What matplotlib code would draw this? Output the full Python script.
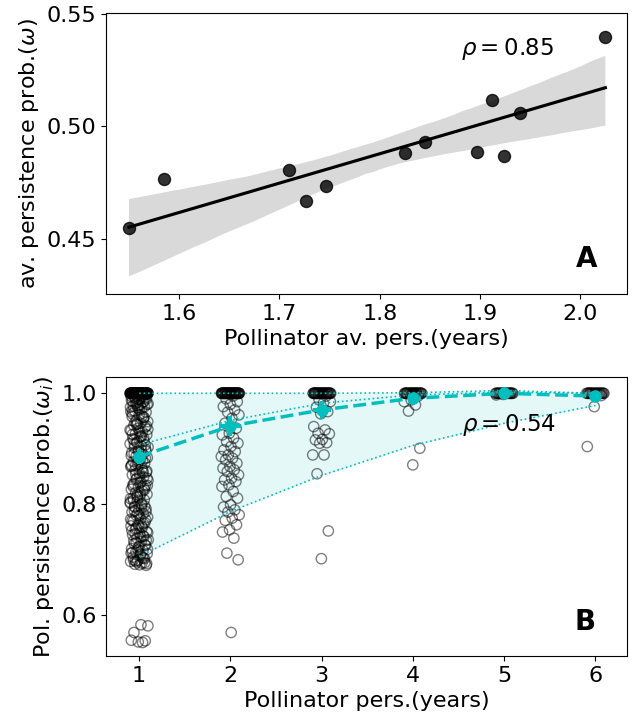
import numpy as np
import matplotlib
matplotlib.use("Agg")
import matplotlib.pyplot as plt
import seaborn as sns

# ---- panel A: average persistence per network ----
pol_av_pers = [1.550, 1.585, 1.710, 1.727, 1.746, 1.825, 1.845, 1.897, 1.912, 1.924, 1.940, 2.025]
av_persist = [0.4545, 0.4764, 0.4803, 0.4667, 0.4734, 0.4879, 0.4931, 0.4884, 0.5115, 0.4866, 0.5057, 0.5397]
rho_a = 0.85

# ---- panel B: per-pollinator persistence ----
years = [1, 2, 3, 4, 5, 6]
# number of species sitting at exactly 1.0 for each persistence class
n_at_one = [80, 50, 35, 28, 22, 22]
# the other (below 1) values for each persistence class
pers_1 = [0.998, 0.996, 0.995, 0.993, 0.991, 0.990, 0.988, 0.986, 0.985, 0.983, 0.981,
          0.997, 0.994, 0.992, 0.989, 0.987, 0.984, 0.982, 0.980, 0.979, 0.977, 0.976,
          0.978, 0.975, 0.973, 0.968, 0.966, 0.961, 0.958, 0.956, 0.951, 0.949, 0.946,
          0.942, 0.939, 0.937, 0.933, 0.930, 0.927, 0.925, 0.921, 0.918, 0.914, 0.912,
          0.909, 0.905, 0.902, 0.899, 0.897, 0.893, 0.890, 0.886, 0.884, 0.881, 0.877,
          0.874, 0.872, 0.868, 0.865, 0.862, 0.858, 0.856, 0.853, 0.849, 0.846, 0.843,
          0.840, 0.837, 0.833, 0.831, 0.827, 0.824, 0.821, 0.818, 0.815, 0.811, 0.808,
          0.806, 0.802, 0.799, 0.796, 0.792, 0.790, 0.786, 0.783, 0.780, 0.777, 0.774,
          0.770, 0.767, 0.764, 0.761, 0.758, 0.755, 0.751, 0.748, 0.745, 0.742, 0.739,
          0.736, 0.733, 0.729, 0.726, 0.723, 0.720, 0.717, 0.714, 0.711, 0.708, 0.705,
          0.702, 0.699, 0.697, 0.694, 0.692, 0.690,
          0.971, 0.963, 0.953, 0.944, 0.935, 0.923, 0.916, 0.907, 0.895, 0.888, 0.879,
          0.870, 0.860, 0.851, 0.835, 0.829, 0.813, 0.804, 0.794, 0.788, 0.772, 0.762,
          0.753, 0.743, 0.731, 0.719, 0.710, 0.700, 0.695,
          0.974, 0.967, 0.959, 0.948, 0.941, 0.932, 0.926, 0.919, 0.911, 0.903, 0.898,
          0.891, 0.883, 0.876, 0.869, 0.861, 0.855, 0.847, 0.839, 0.832, 0.826, 0.817,
          0.810, 0.801, 0.795, 0.787, 0.779, 0.771, 0.765, 0.757, 0.749, 0.741, 0.734,
          0.727, 0.718, 0.712, 0.704, 0.698, 0.693, 0.691,
          0.969, 0.957, 0.945, 0.934, 0.922, 0.908, 0.896, 0.882, 0.871, 0.857, 0.845,
          0.834, 0.819, 0.807, 0.797, 0.784, 0.773, 0.760, 0.747, 0.735, 0.724, 0.713,
          0.703, 0.696,
          0.581, 0.583, 0.569, 0.554, 0.552, 0.555, 0.551]
pers_2 = [0.995, 0.990, 0.985, 0.980, 0.976, 0.970, 0.966, 0.961, 0.955, 0.946, 0.937,
          0.928, 0.925, 0.919, 0.913, 0.910, 0.904, 0.898, 0.895, 0.889, 0.886, 0.883,
          0.880, 0.874, 0.868, 0.865, 0.862, 0.859, 0.853, 0.847, 0.844, 0.841, 0.835,
          0.832, 0.823, 0.814, 0.811, 0.799, 0.795, 0.790, 0.786, 0.781, 0.775, 0.771,
          0.763, 0.754, 0.750, 0.739, 0.712, 0.700, 0.569]
pers_3 = [0.995, 0.988, 0.985, 0.982, 0.975, 0.967, 0.963, 0.940, 0.934, 0.928, 0.927,
          0.917, 0.916, 0.911, 0.910, 0.889, 0.889, 0.855, 0.752, 0.702]
pers_4 = [0.995, 0.988, 0.985, 0.979, 0.968, 0.901, 0.871]
pers_5 = [0.998, 0.997]
pers_6 = [0.996, 0.976, 0.904]
pers_lists = [pers_1, pers_2, pers_3, pers_4, pers_5, pers_6]

mean_pers = [0.886, 0.941, 0.970, 0.991, 1.000, 0.995]
mean_yerr = [0.013, 0.018, 0.016, 0.006, 0.002, 0.003]
mean_xerr = [0.06, 0.12, 0.10, 0.04, 0.02, 0.02]
upper_band = [1.000, 1.000, 1.000, 1.001, 1.005, 1.000]
mid_band = [0.907, 0.951, 0.982, 0.997, 1.002, 1.000]
lower_band = [0.706, 0.787, 0.852, 0.906, 0.946, 0.978]
rho_b = 0.54

plt.rcParams['font.size'] = 16

fig = plt.figure(figsize=(6.32, 7.18), dpi=100)
ax1 = fig.add_axes([0.168, 0.5905, 0.824, 0.3907])
ax2 = fig.add_axes([0.168, 0.0864, 0.824, 0.3881])

# panel A
sns.regplot(x=np.array(pol_av_pers), y=np.array(av_persist), ax=ax1, color='k',
            scatter_kws={'s': 75}, seed=3)
ax1.set_xlim(1.5273, 2.0465)
ax1.set_ylim(0.4253, 0.5502)
ax1.set_xticks([1.6, 1.7, 1.8, 1.9, 2.0])
ax1.set_yticks([0.45, 0.50, 0.55])
ax1.set_xlabel("Pollinator av. pers.(years)")
ax1.set_ylabel(r"av. persistence prob.($\omega$)")
ax1.text(0.682, 0.874, r"$\rho = %.2f$" % rho_a, transform=ax1.transAxes,
         ha='left', va='center', fontsize=16.5)
ax1.text(0.944, 0.0965, "A", transform=ax1.transAxes, ha='right', va='baseline',
         fontsize=20, fontweight='bold')

# panel B: jittered scatter
golden = 0.6180339887
for yr, extra, k in zip(years, pers_lists, n_at_one):
    vals = np.array([1.0] * k + extra)
    idx = np.arange(len(vals))
    jit = ((idx * golden + yr * 0.37) % 1.0 - 0.5) * 0.2
    ax2.scatter(yr + jit, vals, s=55, facecolors='none', edgecolors='k',
                linewidths=1.0, alpha=0.5, zorder=2)

ax2.fill_between(years, lower_band, upper_band, color='c', alpha=0.1, lw=0, zorder=1)
ax2.plot(years, upper_band, ':', color='c', lw=1.2, zorder=3)
ax2.plot(years, mid_band, ':', color='c', lw=1.2, zorder=3)
ax2.plot(years, lower_band, ':', color='c', lw=1.2, zorder=3)
ax2.plot(years, mean_pers, '--', color='c', lw=2.5, zorder=4)
ax2.errorbar(years, mean_pers, yerr=mean_yerr, xerr=mean_xerr, fmt='o', color='c',
             ms=8, elinewidth=3, capsize=0, zorder=5)

ax2.set_xlim(0.639, 6.345)
ax2.set_ylim(0.5267, 1.0288)
ax2.set_xticks(years)
ax2.set_yticks([0.6, 0.8, 1.0])
ax2.set_xlabel("Pollinator pers.(years)")
ax2.set_ylabel(r"Pol. persistence prob.($\omega_i$)")
ax2.text(0.683, 0.828, r"$\rho = %.2f$" % rho_b, transform=ax2.transAxes,
         ha='left', va='center', fontsize=16.5)
ax2.text(0.940, 0.094, "B", transform=ax2.transAxes, ha='right', va='baseline',
         fontsize=20, fontweight='bold')

fig.align_ylabels([ax1, ax2])
fig.savefig("out.png", dpi=100)
